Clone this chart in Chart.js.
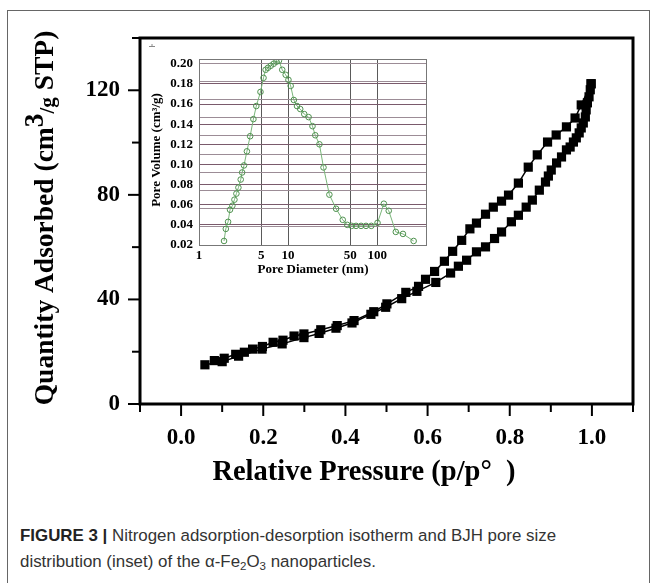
<!DOCTYPE html>
<html>
<head>
<meta charset="utf-8">
<script src="https://cdn.jsdelivr.net/npm/chart.js@4.4.1/dist/chart.umd.min.js"></script>
<style>
  body { margin: 0; background: #fff; width: 657px; height: 583px; overflow: hidden; position: relative; }
  #frame { position: absolute; left: 7px; top: 10px; width: 641px; height: 600px; border: 1px solid #666; }
  #main { position: absolute; left: 0; top: 0; }
  #inset { position: absolute; left: 140px; top: 40px; }
  #caption { position: absolute; left: 20px; top: 523px; font-family: "Liberation Sans", Arial, sans-serif;
             font-size: 16.9px; line-height: 26px; color: #333; }
  #caption b { color: #222; }
  #caption sub { font-size: 11.5px; vertical-align: -3px; line-height: 0; }
</style>
</head>
<body>
<div id="frame"></div>
<canvas id="main" width="657" height="495"></canvas>
<canvas id="inset" width="300" height="240"></canvas>
<div id="caption"><b>FIGURE 3 |</b> Nitrogen adsorption-desorption isotherm and BJH pore size<br>distribution (inset) of the α-Fe<sub>2</sub>O<sub>3</sub> nanoparticles.</div>

<script>
// isotherm, adsorption branch (p/p0, cm3/g STP)
const adsP = [0.058, 0.100, 0.140, 0.197, 0.246, 0.299, 0.336, 0.377, 0.416, 0.462, 0.498, 0.537, 0.574, 0.620,
  0.656, 0.675, 0.695, 0.719, 0.741, 0.763, 0.780, 0.804, 0.821, 0.840, 0.855, 0.872, 0.887, 0.894, 0.901, 0.914,
  0.926, 0.938, 0.947, 0.955, 0.962, 0.969, 0.974, 0.979, 0.984, 0.986, 0.989, 0.993, 0.996, 0.998];
const adsQ = [15.0, 16.2, 18.3, 21.0, 23.0, 25.4, 27.0, 29.0, 31.0, 34.3, 37.0, 40.3, 43.1, 46.5,
  50.1, 52.7, 55.0, 58.2, 60.1, 63.3, 65.8, 69.7, 72.2, 75.3, 78.0, 81.8, 84.9, 87.2, 89.5, 92.2,
  94.5, 97.2, 98.3, 100.2, 101.8, 103.7, 105.6, 107.5, 109.8, 112.5, 115.2, 117.5, 120.2, 122.5];

// desorption branch
const desP = [0.998, 0.974, 0.959, 0.938, 0.913, 0.892, 0.867, 0.845, 0.821, 0.797, 0.780, 0.760, 0.741, 0.719,
  0.703, 0.683, 0.661, 0.641, 0.617, 0.595, 0.578, 0.547, 0.501, 0.469, 0.421, 0.380, 0.340, 0.299, 0.275,
  0.248, 0.224, 0.198, 0.174, 0.154, 0.133, 0.105, 0.081];
const desQ = [122.5, 114.4, 109.4, 106.0, 102.9, 100.2, 95.3, 90.6, 84.5, 79.9, 77.6, 75.3, 72.6, 69.2,
  67.0, 62.6, 58.4, 54.6, 50.7, 47.7, 45.0, 42.7, 38.3, 35.3, 31.9, 30.0, 28.4, 26.8, 26.0,
  24.4, 23.6, 22.0, 21.0, 19.8, 19.0, 17.5, 16.6];

const xTicks = [-0.1, 0.0, 0.1, 0.2, 0.3, 0.4, 0.5, 0.6, 0.7, 0.8, 0.9, 1.0, 1.1];
const xLabels = ['', '0.0', '', '0.2', '', '0.4', '', '0.6', '', '0.8', '', '1.0', ''];
const yTicks = [0, 20, 40, 60, 80, 100, 120, 140];
const yLabels = ['0', '', '40', '', '80', '', '120', ''];

// BJH pore size distribution (inset)
const poreD = [1.91, 2.0, 2.12, 2.23, 2.37, 2.5, 2.63, 2.77, 2.94, 3.05, 3.2, 3.45, 3.75, 4.08, 4.4, 4.9,
  5.3, 5.6, 5.95, 6.4, 6.9, 7.4, 7.9, 8.6, 9.4, 10.1, 10.7, 11.6, 12.6, 13.7, 15.2, 17.0, 18.8, 20.2,
  22.5, 25.0, 29.1, 34.6, 41.1, 46.2, 51.8, 58, 66, 75, 86, 101, 119, 135, 162, 195, 257];
const poreV = [0.024, 0.036, 0.043, 0.055, 0.059, 0.065, 0.071, 0.077, 0.085, 0.092, 0.099, 0.113, 0.128, 0.145,
  0.158, 0.172, 0.186, 0.194, 0.196, 0.198, 0.200, 0.202, 0.203, 0.194, 0.189, 0.184, 0.178, 0.164, 0.158,
  0.155, 0.150, 0.147, 0.138, 0.129, 0.120, 0.097, 0.070, 0.056, 0.045, 0.040, 0.039, 0.039, 0.039, 0.039,
  0.039, 0.042, 0.061, 0.054, 0.033, 0.031, 0.024];
const insetXTicks = [1, 5, 10, 50, 100];
const insetYTicks = [0.02, 0.04, 0.06, 0.08, 0.10, 0.12, 0.14, 0.16, 0.18, 0.20];

const SERIF = '"Liberation Serif", "Times New Roman", serif';
Chart.defaults.font.family = SERIF;
Chart.defaults.color = '#000';

const frameAndTicks = {
  id: 'frameAndTicks',
  afterDraw(chart) {
    const { ctx, chartArea: a, scales } = chart;
    ctx.save();
    ctx.strokeStyle = '#000';
    ctx.lineWidth = 2;
    scales.x.ticks.forEach((t, i) => {
      const px = scales.x.getPixelForValue(t.value);
      const len = xLabels[i] ? 12 : 8;
      ctx.beginPath(); ctx.moveTo(px, a.bottom); ctx.lineTo(px, a.bottom + len); ctx.stroke();
    });
    scales.y.ticks.forEach((t, i) => {
      const py = scales.y.getPixelForValue(t.value);
      const len = yLabels[i] ? 12 : 8;
      ctx.beginPath(); ctx.moveTo(a.left, py); ctx.lineTo(a.left - len, py); ctx.stroke();
    });
    ctx.lineWidth = 3;
    ctx.strokeRect(a.left, a.top, a.right - a.left, a.bottom - a.top);

    // small mark in the top-left corner of the frame
    ctx.lineWidth = 1;
    ctx.strokeStyle = '#888';
    ctx.beginPath(); ctx.moveTo(149, 46.5); ctx.lineTo(155, 46.5); ctx.moveTo(152, 44); ctx.lineTo(152, 46.5); ctx.stroke();

    // axis titles
    ctx.fillStyle = '#000';
    ctx.font = 'bold 28.5px ' + SERIF;
    ctx.textBaseline = 'middle';
    ctx.textAlign = 'center';
    ctx.fillText('Relative Pressure (p/p°  )', 364, 473);

    ctx.translate(46, 218);
    ctx.rotate(-Math.PI / 2);
    const parts = [
      ['Quantity Adsorbed (cm', 27.5, 0],
      ['3', 27.5, -10],
      ['/g', 21, 3],
      [' STP)', 27.5, 0]
    ];
    let total = 0;
    parts.forEach(p => { ctx.font = 'bold ' + p[1] + 'px ' + SERIF; total += ctx.measureText(p[0]).width; });
    let x = -total / 2;
    ctx.textAlign = 'left';
    parts.forEach(p => {
      ctx.font = 'bold ' + p[1] + 'px ' + SERIF;
      ctx.fillText(p[0], x, p[2]);
      x += ctx.measureText(p[0]).width;
    });
    ctx.restore();
  }
};

new Chart(document.getElementById('main'), {
  type: 'line',
  data: {
    datasets: [
      {
        label: 'Adsorption',
        data: adsP.map((p, i) => ({ x: p, y: adsQ[i] })),
        borderColor: '#000', backgroundColor: '#000', borderWidth: 1.5,
        pointStyle: 'rect', pointRadius: 6.5, pointBorderWidth: 0, tension: 0
      },
      {
        label: 'Desorption',
        data: desP.map((p, i) => ({ x: p, y: desQ[i] })),
        borderColor: '#000', backgroundColor: '#000', borderWidth: 1.5,
        pointStyle: 'rect', pointRadius: 6.5, pointBorderWidth: 0, tension: 0
      }
    ]
  },
  options: {
    responsive: false,
    animation: false,
    layout: { padding: { top: 38, right: 24, left: 0, bottom: 0 } },
    plugins: { legend: { display: false }, tooltip: { enabled: false } },
    scales: {
      x: {
        type: 'linear', min: -0.1, max: 1.1,
        afterBuildTicks: s => { s.ticks = xTicks.map(v => ({ value: v })); },
        afterFit: s => { s.height = 91; },
        grid: { display: false, drawTicks: false },
        border: { display: false },
        ticks: {
          autoSkip: false, maxRotation: 0, padding: 20,
          font: { size: 23, weight: 'bold' },
          callback: (v, i) => xLabels[i]
        }
      },
      y: {
        type: 'linear', min: 0, max: 140,
        afterBuildTicks: s => { s.ticks = yTicks.map(v => ({ value: v })); },
        afterFit: s => { s.width = 140; },
        grid: { display: false, drawTicks: false },
        border: { display: false },
        ticks: {
          autoSkip: false, padding: 20,
          font: { size: 23, weight: 'bold' },
          callback: (v, i) => yLabels[i]
        }
      }
    }
  },
  plugins: [frameAndTicks]
});

const insetFrame = {
  id: 'insetFrame',
  afterDraw(chart) {
    const { ctx, chartArea: a } = chart;
    ctx.save();
    ctx.strokeStyle = '#777';
    ctx.lineWidth = 1;
    ctx.strokeRect(a.left + 0.5, a.top + 0.5, a.right - a.left - 1, a.bottom - a.top);
    ctx.fillStyle = '#000';
    ctx.font = 'bold 13px ' + SERIF;
    ctx.textAlign = 'center';
    ctx.textBaseline = 'middle';
    ctx.fillText('Pore Diameter (nm)', 173, 230);
    ctx.translate(17, 110);
    ctx.rotate(-Math.PI / 2);
    ctx.fillText('Pore Volume (cm³/g)', 0, 0);
    ctx.restore();
  }
};

new Chart(document.getElementById('inset'), {
  type: 'line',
  data: {
    datasets: [{
      data: poreD.map((d, i) => ({ x: d, y: poreV[i] })),
      borderColor: '#79b579', borderWidth: 1,
      pointStyle: 'circle', pointRadius: 2.8, pointBorderWidth: 1,
      pointBorderColor: '#4f914f', pointBackgroundColor: 'rgba(255,255,255,0)', tension: 0
    }]
  },
  options: {
    responsive: false,
    animation: false,
    layout: { padding: { top: 19, right: 13, left: 0, bottom: 0 } },
    plugins: { legend: { display: false }, tooltip: { enabled: false } },
    scales: {
      x: {
        type: 'logarithmic', min: 1, max: 363,
        afterBuildTicks: s => { s.ticks = insetXTicks.map(v => ({ value: v })); },
        afterFit: s => { s.height = 35; },
        grid: { color: '#5a5a5a', lineWidth: 1, drawTicks: false },
        border: { display: false },
        ticks: { autoSkip: false, maxRotation: 0, padding: 3, font: { size: 13, weight: 'bold' },
                 callback: v => String(v) }
      },
      y: {
        type: 'linear', min: 0.02, max: 0.2047,
        afterBuildTicks: s => { s.ticks = insetYTicks.map(v => ({ value: v })); },
        afterFit: s => { s.width = 59; },
        grid: { color: '#7a5a6c', lineWidth: 1, drawTicks: false },
        border: { display: false },
        ticks: { autoSkip: false, padding: 6, font: { size: 13, weight: 'bold' },
                 callback: v => v.toFixed(2) }
      },
      y2: {
        type: 'linear', position: 'right', min: 0, max: 10.22,
        afterBuildTicks: s => { s.ticks = [1, 2, 3, 4, 5, 6, 7, 8, 9, 10].map(v => ({ value: v })); },
        afterFit: s => { s.width = 0; },
        grid: { color: '#9c8c96', lineWidth: 1, drawTicks: false },
        border: { display: false },
        ticks: { display: false }
      }
    }
  },
  plugins: [insetFrame]
});
</script>
</body>
</html>
